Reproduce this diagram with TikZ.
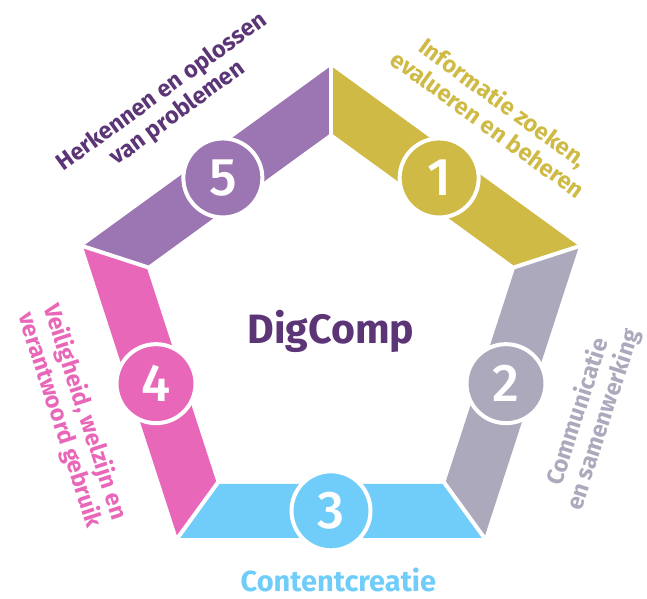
\documentclass[tikz,border=0pt]{standalone}
\usepackage{fontspec}
\setmainfont{Fira Sans}[BoldFont={Fira Sans Bold}]
\newfontfamily\heavy{Fira Sans Bold}
\newfontfamily\numfont{Fira Sans Medium}
\definecolor{cyel}{RGB}{207,186,69}
\definecolor{cgry}{RGB}{173,169,189}
\definecolor{cblu}{RGB}{112,205,250}
\definecolor{cpnk}{RGB}{233,103,184}
\definecolor{cpur}{RGB}{156,118,178}
\definecolor{cdark}{RGB}{91,53,117}
\begin{document}
\begin{tikzpicture}[x=1pt,y=1pt,
  numc/.style={circle, draw=white, line width=4pt, minimum size=79pt, inner sep=0pt, text=white, font=\numfont\fontsize{53}{53}\selectfont},
  lab/.style={font=\bfseries\fontsize{23.5}{26.5}\selectfont, align=center, inner sep=0pt},
  gap/.style={draw=white, line width=4pt, shorten <=-4pt, shorten >=-4pt}]
\useasboundingbox (0,0) rectangle (647,-598);
\coordinate (C) at (331,-326.8);
\foreach \a/\n in {90/1,18/2,-54/3,-126/4,162/5}{
  \path (C) ++(\a:260.8) coordinate (o\n);
  \path (C) ++(\a:194) coordinate (i\n);
}
\fill[cyel] (o1) -- (o2) -- (i2) -- (i1) -- cycle;
\fill[cgry] (o2) -- (o3) -- (i3) -- (i2) -- cycle;
\fill[cblu] (o3) -- (o4) -- (i4) -- (i3) -- cycle;
\fill[cpnk] (o4) -- (o5) -- (i5) -- (i4) -- cycle;
\fill[cpur] (o5) -- (o1) -- (i1) -- (i5) -- cycle;
\foreach \n in {1,...,5}{ \draw[gap] (i\n) -- (o\n); }
\path (C) ++(54:184) node[numc, fill=cyel] (c1) {1};
\path (C) ++(-18:184) node[numc, fill=cgry] (c2) {2};
\path (C) ++(-90:184) node[numc, fill=cblu] (c3) {3};
\path (C) ++(198:184) node[numc, fill=cpnk] (c4) {4};
\path (C) ++(126:184) node[numc, fill=cpur] (c5) {5};
\node[anchor=base, text=cdark, font=\heavy\fontsize{41}{41}\selectfont, inner sep=0pt] (title) at (331,-343.3) {DigComp};
\node[anchor=base, text=cblu, font=\heavy\fontsize{29}{29}\selectfont, inner sep=0pt] (l3) at (338.4,-591.7) {Contentcreatie};
\node[lab, text=cdark, rotate=36] (l5) at (170,-103) {Herkennen en oplossen\\van problemen};
\node[lab, text=cyel, rotate=-36] (l1) at (496,-113) {Informatie zoeken,\\evalueren en beheren};
\node[lab, text=cgry, rotate=72] (l2) at (591,-416) {Communicatie\\en samenwerking};
\node[lab, text=cpnk, rotate=-72] (l4) at (72,-416) {Veiligheid, welzijn en\\verantwoord gebruik};
\end{tikzpicture}
\end{document}
